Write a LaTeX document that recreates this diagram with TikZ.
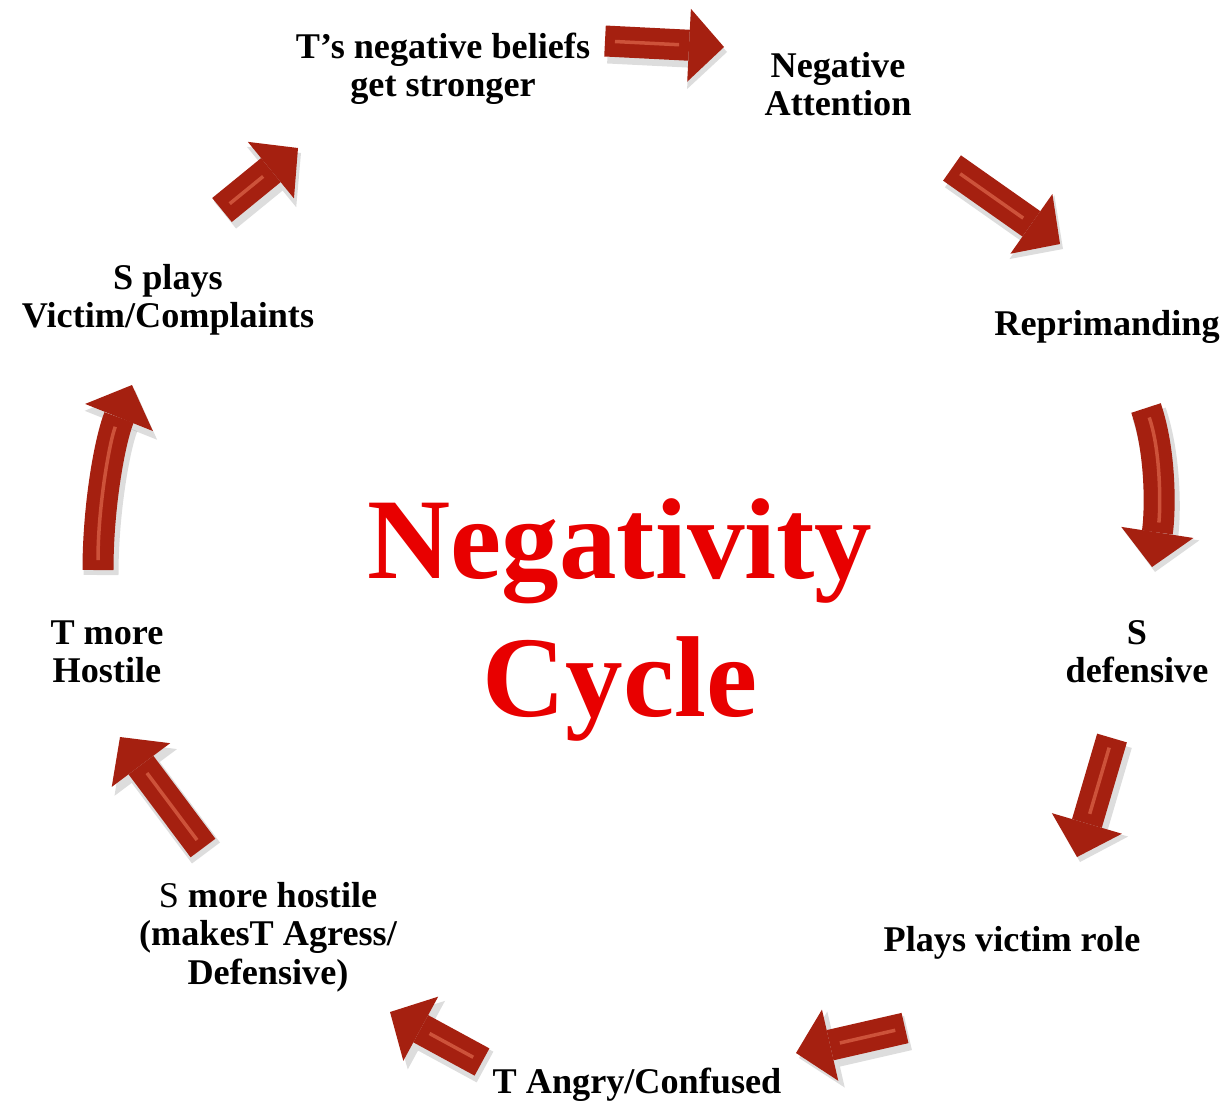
\documentclass[tikz,border=0pt]{standalone}
\usepackage{fontspec}
\setmainfont{Liberation Serif}
\usepackage{xcolor}
\usepackage{tikz}
\usetikzlibrary{arrows.meta, positioning, calc}
\definecolor{cyclered}{RGB}{232, 0, 0}
\definecolor{arrowred}{RGB}{165, 32, 16}
\definecolor{arrowlight}{RGB}{205, 82, 58}
\tikzstyle{stage} = [
    inner sep=0pt,
    align=center,
    text=black,
    font=\bfseries\fontsize{20.6}{21.8}\selectfont
]
\tikzstyle{title} = [
    inner sep=0pt,
    align=center,
    text=cyclered,
    font=\bfseries\fontsize{65.5}{79}\selectfont
]
\tikzstyle{bigarrow} = [
    line width=0.62cm,
    draw=arrowred,
    -{Triangle[length=0.7cm, width=1.46cm, line width=0pt 0]},
    preaction={draw=black!60, opacity=0.22, line width=0.7cm,
        -{Triangle[length=0.76cm, width=1.56cm, line width=0pt 0]},
        transform canvas={shift={(0.06cm,-0.1cm)}}},
    postaction={draw=arrowlight, line width=0.07cm, -,
        shorten >=0.9cm, shorten <=0.2cm}
]

\begin{document}
\begin{tikzpicture}[x=0.02cm, y=-0.02cm]
        \useasboundingbox (0,0) rectangle (1226,1106);

        % Title
        \node[title] (cycle) at (620,620) {Negativity\\Cycle};

        % Stages
        \node[stage] (beliefs) at (443,69) {T’s negative beliefs\\get stronger};
        \node[stage] (attention) at (838,84) {Negative\\Attention};
        \node[stage] (reprimand) at (1107,327) {Reprimanding};
        \node[stage] (defensive) at (1137,652) {S\\defensive};
        \node[stage] (victim) at (1012,943) {Plays victim role};
        \node[stage] (angry) at (637,1085) {T Angry/Confused};
        \node[stage] (shostile) at (268,937) {{\mdseries S} more hostile\\(makesT Agress/\\Defensive)};
        \node[stage] (thostile) at (107,652) {T more\\Hostile};
        \node[stage] (splays) at (168,300) {S plays\\Victim/Complaints};

        % Arrow ends
        \coordinate (a1s) at (605,41);   \coordinate (a1e) at (724,47);
        \coordinate (a2s) at (952,168);  \coordinate (a2e) at (1060,244);
        \coordinate (a3s) at (1146,408); \coordinate (a3e) at (1152,567);
        \coordinate (a4s) at (1112,738); \coordinate (a4e) at (1077,857);
        \coordinate (a5s) at (905,1028); \coordinate (a5e) at (796,1053);
        \coordinate (a6s) at (482,1062); \coordinate (a6e) at (390,1012);
        \coordinate (a7s) at (203,848);  \coordinate (a7e) at (120,737);
        \coordinate (a8s) at (98,570);   \coordinate (a8e) at (132,385);
        \coordinate (a9s) at (222,210);  \coordinate (a9e) at (298,148);

        % Arrows
        \draw[bigarrow] (a1s) -- (a1e);
        \draw[bigarrow] (a2s) -- (a2e);
        \draw[bigarrow] (a3s) .. controls (1162,455) and (1160,515) .. (a3e);
        \draw[bigarrow] (a4s) -- (a4e);
        \draw[bigarrow] (a5s) -- (a5e);
        \draw[bigarrow] (a6s) -- (a6e);
        \draw[bigarrow] (a7s) -- (a7e);
        \draw[bigarrow] (a8s) .. controls (98,505) and (110,440) .. (a8e);
        \draw[bigarrow] (a9s) -- (a9e);
    \end{tikzpicture}
\end{document}
